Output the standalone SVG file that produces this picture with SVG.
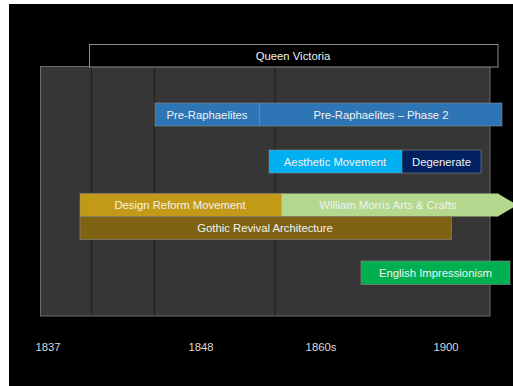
<svg xmlns="http://www.w3.org/2000/svg" width="513" height="386" viewBox="0 0 513 386">
<style>
.lbl{font-family:"Liberation Sans",Arial,sans-serif;font-size:11.3px;fill:#f2f2f2;text-anchor:middle;dominant-baseline:central}
.yr{font-family:"Liberation Sans",Arial,sans-serif;font-size:11.3px;fill:#d9d9d9;text-anchor:middle;dominant-baseline:central}
.bx{stroke:#8c8c8c;stroke-width:1;stroke-opacity:0.6}
.grid{stroke:#222;stroke-width:1.2}
</style>
<rect x="0" y="0" width="513" height="386" fill="#ffffff"/>
<rect x="9" y="4" width="504" height="382" fill="#000000"/>
<g id="panel">
<rect x="40.5" y="66.5" width="449.5" height="249.5" fill="#363636" stroke="#6b6b6b" stroke-width="1"/>
</g>
<g id="connectors">
<line class="grid" x1="91.5" y1="67" x2="91.5" y2="315.5"/>
<line class="grid" x1="154.5" y1="67" x2="154.5" y2="315.5"/>
<line class="grid" x1="275" y1="67" x2="275" y2="315.5"/>
</g>
<g id="queen-victoria">
<rect x="89.5" y="44.5" width="408.5" height="22.5" fill="#000000" stroke="#8c8c8c" stroke-width="1"/>
<text class="lbl" x="293" y="56">Queen Victoria</text>
</g>
<g id="pre-raphaelites">
<rect class="bx" x="155" y="103" width="104.5" height="23" fill="#2e75b6"/>
<text class="lbl" x="207" y="114.5">Pre-Raphaelites</text>
</g>
<g id="pre-raphaelites-2">
<rect class="bx" x="259.5" y="103" width="242.5" height="23" fill="#2e75b6"/>
<text class="lbl" x="381" y="114.5">Pre-Raphaelites – Phase 2</text>
</g>
<g id="aesthetic">
<rect class="bx" x="269" y="150" width="133" height="23" fill="#00b0f0"/>
<text class="lbl" x="335" y="161.5">Aesthetic Movement</text>
</g>
<g id="degenerate">
<rect class="bx" x="402" y="150" width="79" height="23" fill="#002060"/>
<text class="lbl" x="441.5" y="161.5">Degenerate</text>
</g>
<g id="design-reform">
<rect class="bx" x="80" y="193.5" width="202" height="23" fill="#c29a18"/>
<text class="lbl" x="180" y="205">Design Reform Movement</text>
</g>
<g id="william-morris">
<path d="M281.5 193.5 H497 V193 L517 205 L497 217 V216.5 H281.5 Z" fill="#b3d88e"/>
<text class="lbl" x="388" y="205">William Morris Arts &amp; Crafts</text>
</g>
<g id="gothic-revival">
<rect class="bx" x="80" y="216.5" width="371.5" height="23" fill="#7f6212"/>
<text class="lbl" x="265" y="228">Gothic Revival Architecture</text>
</g>
<g id="english-impressionism">
<rect class="bx" x="361" y="261" width="149" height="23.5" fill="#00b050"/>
<text class="lbl" x="435.5" y="273">English Impressionism</text>
</g>
<g id="years">
<text class="yr" x="48" y="347">1837</text>
<text class="yr" x="201" y="347">1848</text>
<text class="yr" x="321" y="347">1860s</text>
<text class="yr" x="446" y="347">1900</text>
</g>
</svg>
